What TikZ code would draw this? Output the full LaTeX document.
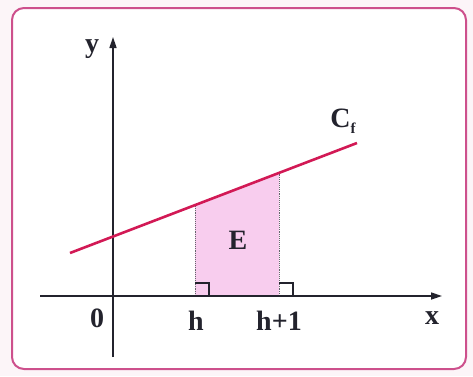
\documentclass[tikz,border=0pt]{standalone}
\usepackage{fontspec}
\setmainfont{Liberation Serif}
\usetikzlibrary{arrows.meta}
\definecolor{frame}{RGB}{205,80,140}
\definecolor{curve}{RGB}{210,25,85}
\definecolor{region}{RGB}{248,205,238}
\definecolor{axis}{RGB}{35,35,45}
\tikzset{
  lbl/.style={font=\fontsize{28}{28}\selectfont\bfseries, text=axis, inner sep=0pt},
  axisline/.style={draw=axis, line width=1.6pt, -{Triangle[length=11pt,width=7pt]}},
  guide/.style={draw=axis!70, densely dotted, line width=0.9pt},
}
\begin{document}
\begin{tikzpicture}[x=1pt,y=-1pt]
\useasboundingbox (0,0) rectangle (473,376);
\fill[frame!6] (0,0) rectangle (473,376);
\draw[frame, line width=2pt, rounded corners=12pt, fill=white] (12,8) rectangle (466,369);
% region
\coordinate (hb) at (195,296);
\coordinate (ht) at (195,205.4);
\coordinate (kb) at (279,296);
\coordinate (kt) at (279,173.2);
\fill[region] (hb) -- (ht) -- (kt) -- (kb) -- cycle;
\draw[guide] (hb) -- (ht);
\draw[guide] (kb) -- (kt);
% right-angle marks
\draw[axis, line width=1.1pt] (195,283) -- (209,283) -- (209,296);
\draw[axis, line width=1.1pt] (279,283) -- (293,283) -- (293,296);
% axes
\coordinate (xs) at (40,296);
\coordinate (xe) at (442,296);
\coordinate (ys) at (113,357);
\coordinate (ye) at (113,37);
\draw[axisline] (xs) -- (xe);
\draw[axisline] (ys) -- (ye);
% curve
\coordinate (c1) at (70,253);
\coordinate (c2) at (357,143);
\draw[curve, line width=2.6pt] (c1) -- (c2);
% labels
\node[lbl] (ly) at (92,49) {y};
\node[lbl] (lo) at (97,318) {0};
\node[lbl] (lh) at (196,321) {h};
\node[lbl] (lh1) at (279,321) {h+1};
\node[lbl] (lx) at (432,318) {x};
\node[lbl] (lE) at (238,240) {E};
\node[lbl] (lC) at (343,121) {C\raisebox{-6pt}{\fontsize{15}{15}\selectfont f}};
\end{tikzpicture}
\end{document}
